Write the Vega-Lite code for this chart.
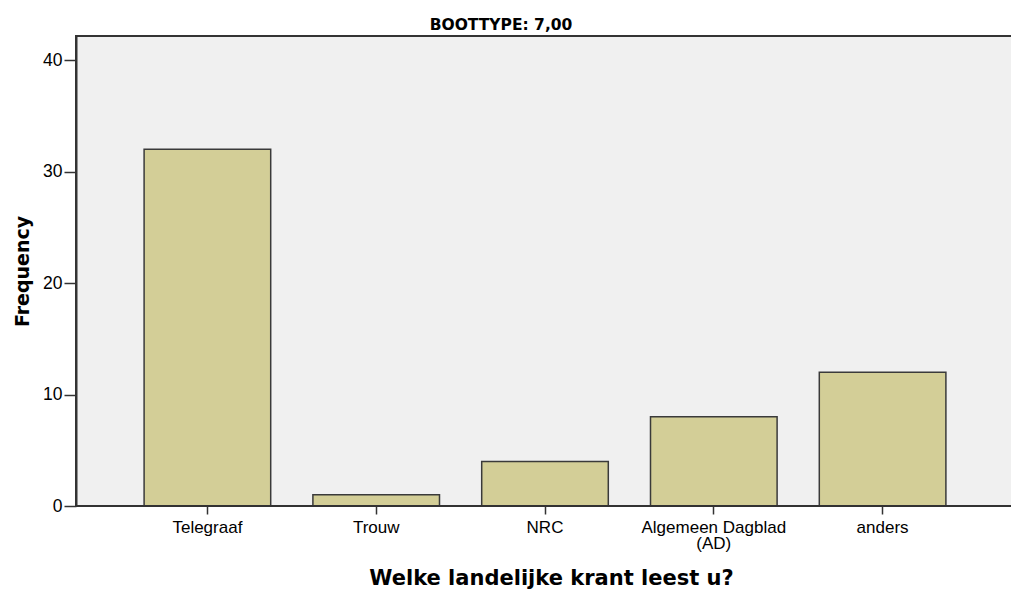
{
  "$schema": "https://vega.github.io/schema/vega-lite/v6.json",
  "autosize": {"type": "none"},
  "padding": {"left": 76, "top": 36, "right": 0, "bottom": 84},
  "width": 940,
  "height": 470,
  "background": "white",
  "title": {"text": "BOOTTYPE: 7,00", "font": "DejaVu Sans", "fontSize": 15.5, "fontWeight": "bold", "color": "#000", "anchor": "middle", "dx": -45, "offset": 3},
  "data": {"values": [
    {"krant": "Telegraaf", "freq": 32},
    {"krant": "Trouw", "freq": 1},
    {"krant": "NRC", "freq": 4},
    {"krant": "Algemeen Dagblad (AD)", "freq": 8},
    {"krant": "anders", "freq": 12}
  ]},
  "layer": [
    {
      "mark": {"type": "bar", "fill": "#d3ce97", "stroke": "#3a3a3a", "strokeWidth": 1.5},
      "encoding": {
        "x": {"field": "krant", "type": "nominal", "sort": null,
          "scale": {"range": [47, 891], "paddingInner": 0.25, "paddingOuter": 0.125},
          "axis": {"title": "Welke landelijke krant leest u?", "titleFont": "DejaVu Sans", "titleFontSize": 21, "titleFontWeight": "bold", "titleColor": "#000",
            "titleX": 475, "titleY": 78, "titleBaseline": "alphabetic", "titleAnchor": "middle",
            "labelAngle": 0, "labelFont": "Liberation Sans", "labelFontSize": 17, "labelColor": "#000", "labelPadding": 5, "labelLineHeight": 16,
            "labelExpr": "datum.value == 'Algemeen Dagblad (AD)' ? ['Algemeen Dagblad', '(AD)'] : datum.value",
            "tickSize": 8, "tickColor": "#333", "tickWidth": 1.5, "domain": false}},
        "y": {"field": "freq", "type": "quantitative",
          "scale": {"domain": [0, 42.16], "nice": false, "zero": true},
          "axis": {"title": "Frequency", "titleFont": "DejaVu Sans", "titleFontSize": 19, "titleFontWeight": "bold", "titleColor": "#000",
            "titleX": -54, "titleBaseline": "middle",
            "values": [0, 10, 20, 30, 40], "labelFont": "Liberation Sans", "labelFontSize": 17.5, "labelColor": "#000", "labelPadding": 2,
            "tickSize": 12, "tickColor": "#333", "tickWidth": 1.5, "domainColor": "#333", "domainWidth": 2, "grid": false}}
      }
    },
    {
      "mark": {"type": "rule", "color": "#333", "strokeWidth": 1.5},
      "encoding": {"y": {"datum": 0}}
    }
  ],
  "config": {"view": {"fill": "#f0f0f0", "stroke": "#333", "strokeWidth": 2}}
}
